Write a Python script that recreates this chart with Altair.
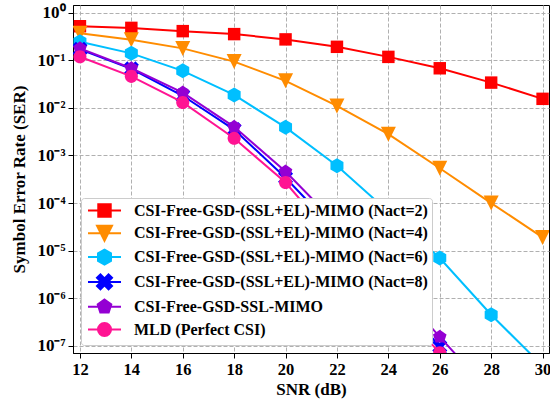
import math
import altair as alt
import pandas as pd

# ---------------- data ----------------
snr = [12, 14, 16, 18, 20, 22, 24, 26, 28, 30]
ser_nact2 = [0.52, 0.48, 0.41, 0.355, 0.275, 0.192, 0.118, 0.068, 0.034, 0.0155]
ser_nact4 = [0.37, 0.27, 0.178, 0.094, 0.037, 0.011, 0.0028, 0.00054, 0.0001, 1.9e-5]
ser_nact6 = [0.245, 0.14, 0.06, 0.0187, 0.0039, 0.00061, 6.6e-5, 7e-6, 4.5e-7, 3.8e-8]
ser_nact8 = [0.17, 0.066, 0.018, 0.0035, 0.00034, 2.5e-5, 1.6e-6, 9.7e-8, 6e-9]
ser_ssl = [0.178, 0.068, 0.021, 0.0040, 0.00046, 3.6e-5, 2.5e-6, 1.55e-7, 1.0e-8]
ser_mld = [0.119, 0.046, 0.013, 0.0023, 0.00027, 1.5e-5, 1.0e-6, 7.2e-8, 4e-9]

series_names = [
    "CSI-Free-GSD-(SSL+EL)-MIMO (Nact=2)",
    "CSI-Free-GSD-(SSL+EL)-MIMO (Nact=4)",
    "CSI-Free-GSD-(SSL+EL)-MIMO (Nact=6)",
    "CSI-Free-GSD-(SSL+EL)-MIMO (Nact=8)",
    "CSI-Free-GSD-SSL-MIMO",
    "MLD (Perfect CSI)",
]
series_values = [ser_nact2, ser_nact4, ser_nact6, ser_nact8, ser_ssl, ser_mld]
colors = ["#ff0000", "#ff8c00", "#00bfff", "#0000ff", "#9400d3", "#ff1493"]

x_ticks = [12, 14, 16, 18, 20, 22, 24, 26, 28, 30]
y_ticks = [1, 1e-1, 1e-2, 1e-3, 1e-4, 1e-5, 1e-6, 1e-7]

rows = []
for i, (name, vals) in enumerate(zip(series_names, series_values)):
    for s, v in zip(snr, vals):
        rows.append({"snr": s, "ser": v, "series": name, "idx": i})
df = pd.DataFrame(rows)


# ---------------- marker shapes (unit paths) ----------------
def poly(pts):
    return "M" + "L".join(f"{x:.3f},{y:.3f}" for x, y in pts) + "Z"


def x_marker(a=1.09, w=0.33):
    plus = [(w, -a), (w, -w), (a, -w), (a, w), (w, w), (w, a),
            (-w, a), (-w, w), (-a, w), (-a, -w), (-w, -w), (-w, -a)]
    r = 1 / math.sqrt(2)
    return poly([((x - y) * r, (x + y) * r) for x, y in plus])


def ngon(n, R):
    return poly([(R * math.cos(math.radians(-90 + 360 * k / n)),
                  R * math.sin(math.radians(-90 + 360 * k / n))) for k in range(n)])


h = 0.83
marker_paths = [
    poly([(-h, -h), (h, -h), (h, h), (-h, h)]),
    poly([(-1, -1), (1, -1), (0, 1)]),
    poly([(0, -1), (0.866, -0.5), (0.866, 0.5), (0, 1), (-0.866, 0.5), (-0.866, -0.5)]),
    x_marker(),
    ngon(5, 0.95),
    "M-0.87,0A0.87,0.87 0 1 0 0.87,0A0.87,0.87 0 1 0 -0.87,0Z",
]
legend_paths = ["M-2.2,0L2.2,0" + p for p in marker_paths]

FONT = "Liberation Serif"
FS = 17

x_enc = alt.X("snr:Q", scale=alt.Scale(domain=[11.73, 30.25], nice=False, zero=False),
              axis=alt.Axis(values=x_ticks, title="SNR (dB)", format="d"))
y_enc = alt.Y("ser:Q", scale=alt.Scale(type="log", domain=[7.08e-8, 1.452], nice=False),
              axis=alt.Axis(values=y_ticks, title="Symbol Error Rate (SER)",
                            labelExpr="'10' + (round(log(datum.value)/LN10) < 0 ? '⁻' : '') + "
                                      "substring('⁰¹²³⁴⁵⁶⁷⁸⁹', abs(round(log(datum.value)/LN10)), "
                                      "abs(round(log(datum.value)/LN10)) + 1)"))

base = alt.Chart(df)

layers = []
for i in range(len(series_names)):
    sub = base.transform_filter(alt.datum.idx == i)
    layers.append(sub.mark_line(strokeWidth=2, clip=True, color=colors[i]).encode(x=x_enc, y=y_enc))
    layers.append(
        sub.mark_point(shape=marker_paths[i], size=225, filled=True, opacity=1, clip=True,
                       color=colors[i])
        .encode(x=x_enc, y=y_enc)
    )

# legend-only layer: its points sit far outside the clipped plot area
legend_common = dict(title=None, orient="bottom-left", offset=8)
legend_layer = base.transform_calculate(hidden_y="1e-30").mark_point(
    filled=True, opacity=1, size=225, strokeWidth=2, clip=True
).encode(
    x=x_enc,
    y=alt.Y("hidden_y:Q"),
    fill=alt.Fill("series:N", scale=alt.Scale(domain=series_names, range=colors),
                  legend=alt.Legend(**legend_common)),
    stroke=alt.Stroke("series:N", scale=alt.Scale(domain=series_names, range=colors),
                      legend=alt.Legend(**legend_common)),
    shape=alt.Shape("series:N", scale=alt.Scale(domain=series_names, range=legend_paths),
                    legend=alt.Legend(**legend_common)),
)
layers.append(legend_layer)

chart = alt.layer(*layers).properties(
    width=476, height=348,
    autosize=alt.AutoSizeParams(type="none"),
    padding={"left": 73, "top": 5, "right": 1, "bottom": 47},
    background="white",
).configure_view(
    stroke="black", strokeWidth=1
).configure_axis(
    labelFont=FONT, labelFontSize=FS, labelFontWeight="bold", labelColor="black",
    titleFont=FONT, titleFontSize=FS, titleFontWeight="bold", titleColor="black",
    domainColor="black", tickColor="black", tickSize=5, labelPadding=3,
    grid=True, gridColor="#b0b0b0", gridDash=[4, 2], gridWidth=1, gridOpacity=1,
).configure_axisX(
    titlePadding=4, labelFontSize=16.5
).configure_axisY(
    titlePadding=8
).configure_legend(
    fillColor="white", strokeColor="#cccccc", cornerRadius=3, padding=4,
    labelFont=FONT, labelFontSize=16, labelFontWeight="bold", labelColor="black",
    labelLimit=1000, symbolSize=225, symbolOffset=11, labelOffset=21, rowPadding=0.8,
    symbolStrokeWidth=2,
)

chart.save("out.html", embed_options={"renderer": "svg", "actions": False})
